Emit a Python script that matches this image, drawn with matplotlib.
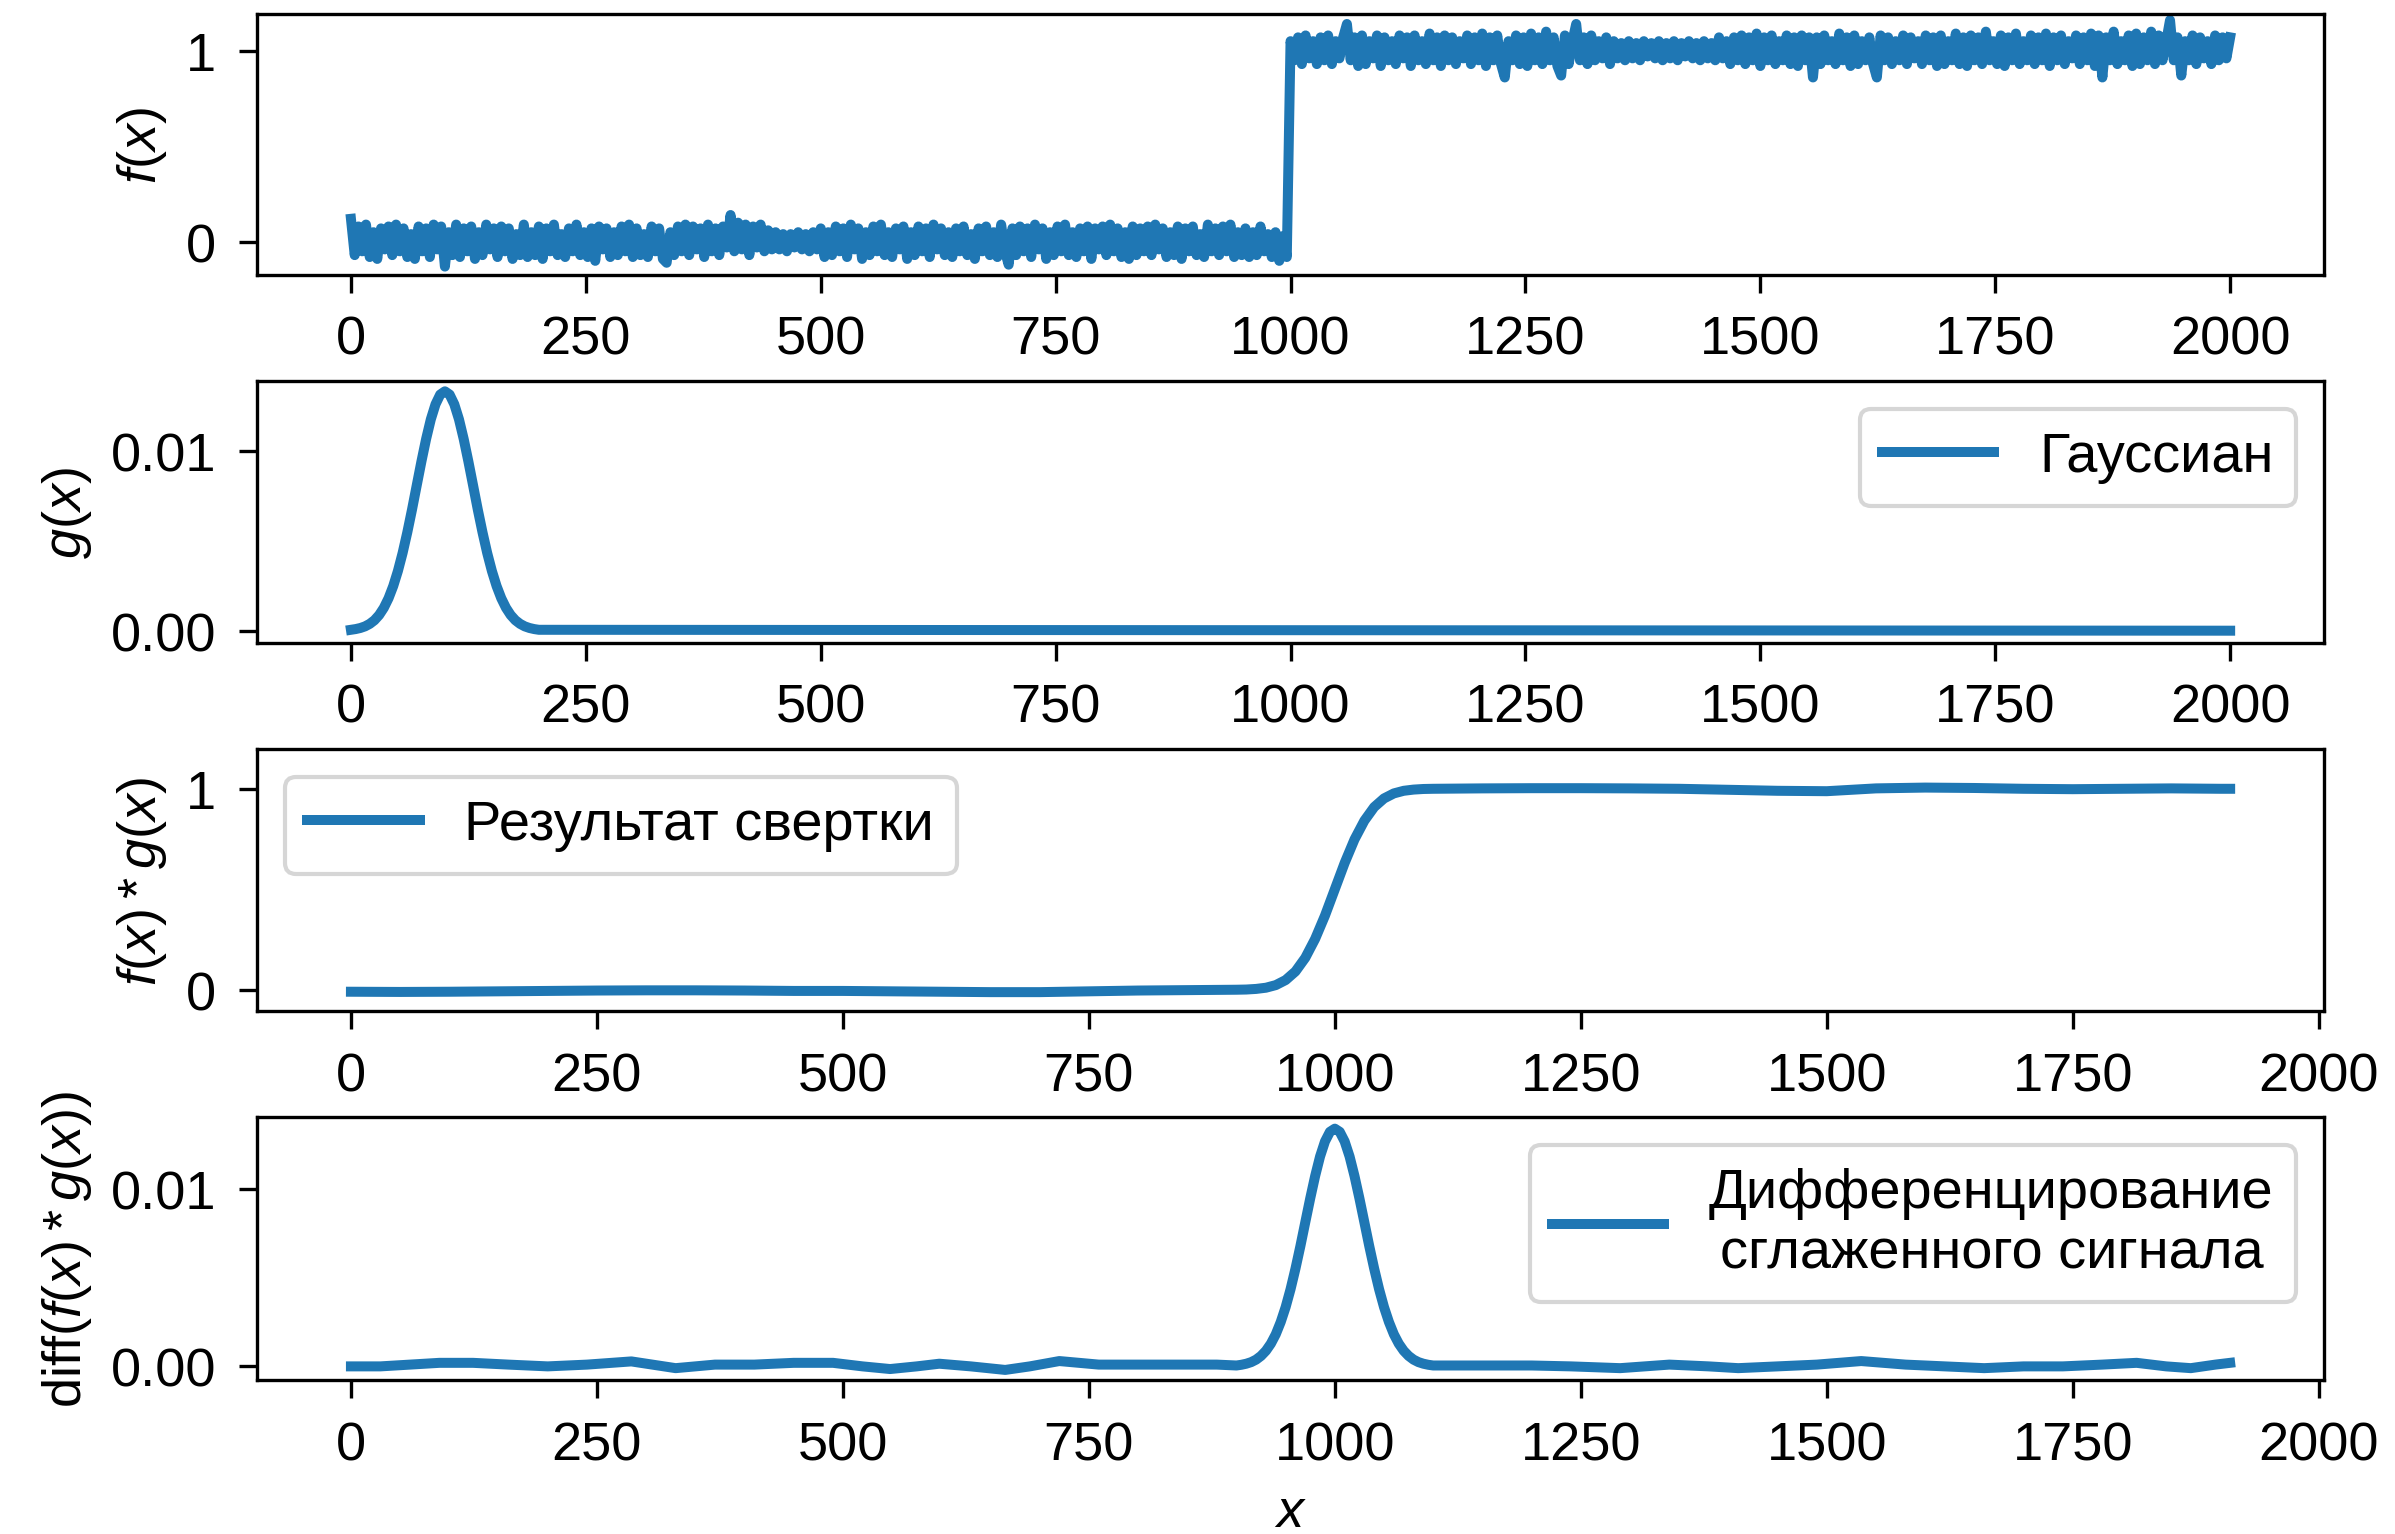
import numpy as np
import matplotlib
matplotlib.use("Agg")
import matplotlib.pyplot as plt
import matplotlib.ticker as mticker

plt.rcParams['font.family'] = ['Liberation Sans', 'DejaVu Sans']
plt.rcParams['font.size'] = 13
plt.rcParams['legend.fontsize'] = 13.45
plt.rcParams['mathtext.fontset'] = 'custom'
plt.rcParams['mathtext.rm'] = 'Liberation Sans'
plt.rcParams['mathtext.it'] = 'Liberation Sans:italic'
plt.rcParams['xtick.major.size'] = 4.3
plt.rcParams['ytick.major.size'] = 4.3
plt.rcParams['xtick.major.pad'] = 5.3
plt.rcParams['ytick.major.pad'] = 5.5

# ---------------- data ----------------
# noisy step signal f(x), sampled every 4 units (values in hundredths)
f_x = list(range(0, 2001, 4))
f_hundredths = [
    12, -7, 8, -5, 9, -8, 5, -9, 7, -4,
    8, -7, 9, -5, 7, -8, 4, -9, 8, -5,
    7, -8, 9, -4, 8, -13, 5, -7, 9, -8,
    7, -5, 8, -9, 5, -7, 9, -4, 7, -8,
    8, -5, 7, -9, 4, -7, 9, -8, 5, -7,
    8, -9, 7, -5, 9, -7, 4, -8, 7, -5,
    9, -7, 5, -8, 7, -10, 8, -4, 7, -8,
    5, -7, 8, -5, 9, -8, 7, -7, 4, -8,
    8, -5, 7, -9, -11, 5, -7, 8, -5, 9,
    -7, 8, -4, 7, -8, 9, -5, 7, -7, 8,
    -3, 14, -5, 10, -4, 9, -7, 8, -3, 9,
    -5, 6, -4, 5, -4, 4, -5, 4, -3, 5,
    -4, 4, -5, 5, -4, 7, -8, 5, -7, 8,
    -5, 7, -8, 9, -4, 7, -9, 5, -7, 8,
    -5, 9, -7, 5, -8, 7, -4, 8, -9, 5,
    -7, 8, -5, 7, -8, 9, -4, 7, -7, 5,
    -8, 7, -5, 8, -7, 4, -9, 7, -5, 8,
    -7, 5, -8, 9, -5, -12, 7, -7, 8, -5,
    7, -8, 9, -4, 7, -9, 5, -7, 8, -5,
    9, -7, 5, -8, 7, -5, 8, -9, 7, -4,
    8, -7, 9, -5, 7, -8, 5, -9, 8, -7,
    7, -5, 8, -7, 9, -4, 7, -8, 5, -7,
    8, -9, 7, -5, 8, -7, 4, -8, 9, -5,
    7, -7, 8, -5, 9, -8, 5, -7, 7, -8,
    5, -7, 8, -5, 4, -8, 5, -10, 3, -8,
    105, 95, 107, 93, 108, 96, 105, 93, 107, 95,
    108, 93, 105, 96, 107, 114, 95, 107, 92, 108,
    93, 105, 96, 108, 92, 107, 95, 105, 93, 108,
    96, 107, 92, 108, 95, 105, 93, 109, 95, 107,
    92, 108, 95, 107, 93, 105, 96, 108, 93, 107,
    95, 109, 92, 107, 95, 108, 93, 86, 105, 95,
    108, 93, 107, 92, 109, 95, 107, 93, 110, 95,
    107, 92, 87, 108, 93, 105, 114, 95, 107, 93,
    108, 95, 105, 96, 107, 93, 105, 96, 104, 95,
    105, 96, 104, 95, 105, 97, 104, 96, 105, 95,
    104, 96, 105, 95, 104, 97, 105, 96, 104, 95,
    105, 96, 104, 95, 107, 96, 105, 93, 107, 95,
    108, 93, 107, 95, 109, 92, 107, 95, 108, 93,
    105, 95, 108, 93, 107, 92, 108, 95, 107, 86,
    107, 93, 108, 95, 105, 93, 109, 95, 107, 92,
    108, 93, 105, 95, 107, 93, 86, 108, 95, 107,
    93, 105, 95, 108, 93, 107, 96, 105, 93, 108,
    95, 107, 92, 108, 93, 105, 95, 109, 93, 107,
    92, 108, 95, 107, 93, 110, 95, 105, 93, 108,
    92, 107, 95, 109, 93, 105, 95, 108, 93, 107,
    95, 109, 92, 107, 95, 108, 93, 105, 96, 108,
    93, 107, 95, 109, 92, 108, 86, 107, 95, 110,
    93, 105, 95, 108, 92, 109, 93, 107, 95, 110,
    93, 108, 95, 105, 116, 95, 107, 87, 105, 95,
    108, 93, 107, 96, 105, 93, 108, 95, 107, 96,
    107,
]
f_y = np.array(f_hundredths) / 100.0

# Gaussian kernel g(x)
g_x = list(range(0, 201, 5)) + [2000]
g_y = [0.00005, 0.00009, 0.00015, 0.00024, 0.00038, 0.00058, 0.00087, 0.00127,
       0.00180, 0.00248, 0.00332, 0.00432, 0.00547, 0.00673, 0.00807, 0.00940,
       0.01065, 0.01174, 0.01258, 0.01312, 0.01330, 0.01312, 0.01258, 0.01174,
       0.01065, 0.00940, 0.00807, 0.00673, 0.00547, 0.00432, 0.00332, 0.00248,
       0.00180, 0.00127, 0.00087, 0.00058, 0.00038, 0.00024, 0.00015, 0.00009,
       0.00005, 0.0]

# convolution result f*g
conv_x = (list(range(0, 851, 50)) + list(range(900, 1101, 10))
          + list(range(1150, 1901, 50)) + [1910])
conv_y = [-0.010, -0.011, -0.010, -0.008, -0.006, -0.004, -0.003, -0.003, -0.004,
          -0.006, -0.006, -0.008, -0.010, -0.012, -0.012, -0.008, -0.004, -0.002,
          0.000, 0.001, 0.004, 0.010, 0.023, 0.048, 0.091, 0.159, 0.253, 0.369, 0.500,
          0.631, 0.748, 0.841, 0.909, 0.952, 0.977, 0.990, 0.996, 0.999, 1.000,
          1.002, 1.003, 1.003, 1.002, 1.000, 0.995, 0.990, 0.988, 1.002, 1.006,
          1.004, 1.000, 0.998, 1.000, 1.002, 1.000,
          1.000]

# derivative of the smoothed signal
diff_x = ([0, 30, 60, 90, 124, 160, 200, 240, 285, 330, 370, 410, 450, 490, 520,
           548, 575, 598, 630, 665, 690, 720, 760, 800, 840, 880, 900]
          + list(range(905, 1096, 5))
          + [1100, 1150, 1200, 1240, 1290, 1340, 1380, 1410, 1450, 1490, 1535, 1580,
             1620, 1660, 1700, 1740, 1780, 1815, 1845, 1870, 1895, 1910])
diff_y = ([0.0, 0.0, 0.0001, 0.0002, 0.0002, 0.0001, 0.0, 0.0001, 0.00028, -0.0001,
           0.0001, 0.0001, 0.0002, 0.0002, 0.0, -0.00015, 0.0, 0.00015, 0.0, -0.0002,
           0.0, 0.0003, 0.0001, 0.0001, 0.0001, 0.0001, 0.00005]
          + [0.00009, 0.00015, 0.00024, 0.00038, 0.00059, 0.00088, 0.00128, 0.00181,
             0.00250, 0.00334, 0.00435, 0.00551, 0.00678, 0.00813, 0.00947, 0.01073,
             0.01183, 0.01268, 0.01322, 0.01340, 0.01322, 0.01268, 0.01183, 0.01073,
             0.00947, 0.00813, 0.00678, 0.00551, 0.00435, 0.00334, 0.00250, 0.00181,
             0.00128, 0.00088, 0.00059, 0.00038, 0.00024, 0.00015, 0.00009]
          + [0.00005, 0.00005, 0.00005, 0.0, -0.0001, 0.0001, 0.0, -0.0001, 0.0, 0.0001,
             0.0003, 0.0001, 0.0, -0.0001, 0.0, 0.0, 0.0001, 0.0002, 0.0, -0.0001,
             0.0001, 0.0002])

x_ticks = list(range(0, 2001, 250))

# ---------------- figure ----------------
fig = plt.figure(figsize=(2395 / 300, 1535 / 300), dpi=300)
left, width = 0.1073, 0.8631
ax1 = fig.add_axes([left, 0.8202, width, 0.1700])
ax2 = fig.add_axes([left, 0.5805, width, 0.1706])
ax3 = fig.add_axes([left, 0.3407, width, 0.1707])
ax4 = fig.add_axes([left, 0.1003, width, 0.1714])

lw = 2.4
ax1.plot(f_x, f_y, lw=lw)
ax1.set_ylabel('$f(x)$')
ax1.set_ylim(-0.174, 1.192)
ax1.set_yticks([0, 1])

ax2.plot(g_x, g_y, lw=lw, label='Гауссиан')
ax2.set_ylabel('$g(x)$')
ax2.set_ylim(-0.00068, 0.01387)
ax2.set_yticks([0, 0.01])
ax2.legend(loc='upper right')

ax3.plot(conv_x, conv_y, lw=lw, label='Результат свертки')
ax3.set_ylabel('$f(x) * g(x)$')
ax3.set_ylim(-0.106, 1.198)
ax3.set_yticks([0, 1])
ax3.legend(loc='upper left')

ax4.plot(diff_x, diff_y, lw=lw, label='Дифференцирование\nсглаженного сигнала')
ax4.set_ylabel('diff($f(x) * g(x)$)')
ax4.set_ylim(-0.00077, 0.01406)
ax4.set_yticks([0, 0.01])
ax4.set_xlabel('$x$')
leg = ax4.legend(loc='upper right')
for t in leg.get_texts():
    t.set_multialignment('center')

for ax in (ax1, ax2, ax3, ax4):
    ax.set_xticks(x_ticks)

ax1.set_xlim(-100, 2100)
ax2.set_xlim(-100, 2100)
ax3.set_xlim(-95.5, 2005.5)
ax4.set_xlim(-95.5, 2005.5)
ax2.yaxis.set_major_formatter(mticker.FormatStrFormatter('%.2f'))
ax4.yaxis.set_major_formatter(mticker.FormatStrFormatter('%.2f'))

fig.savefig('out.png', dpi=300)
